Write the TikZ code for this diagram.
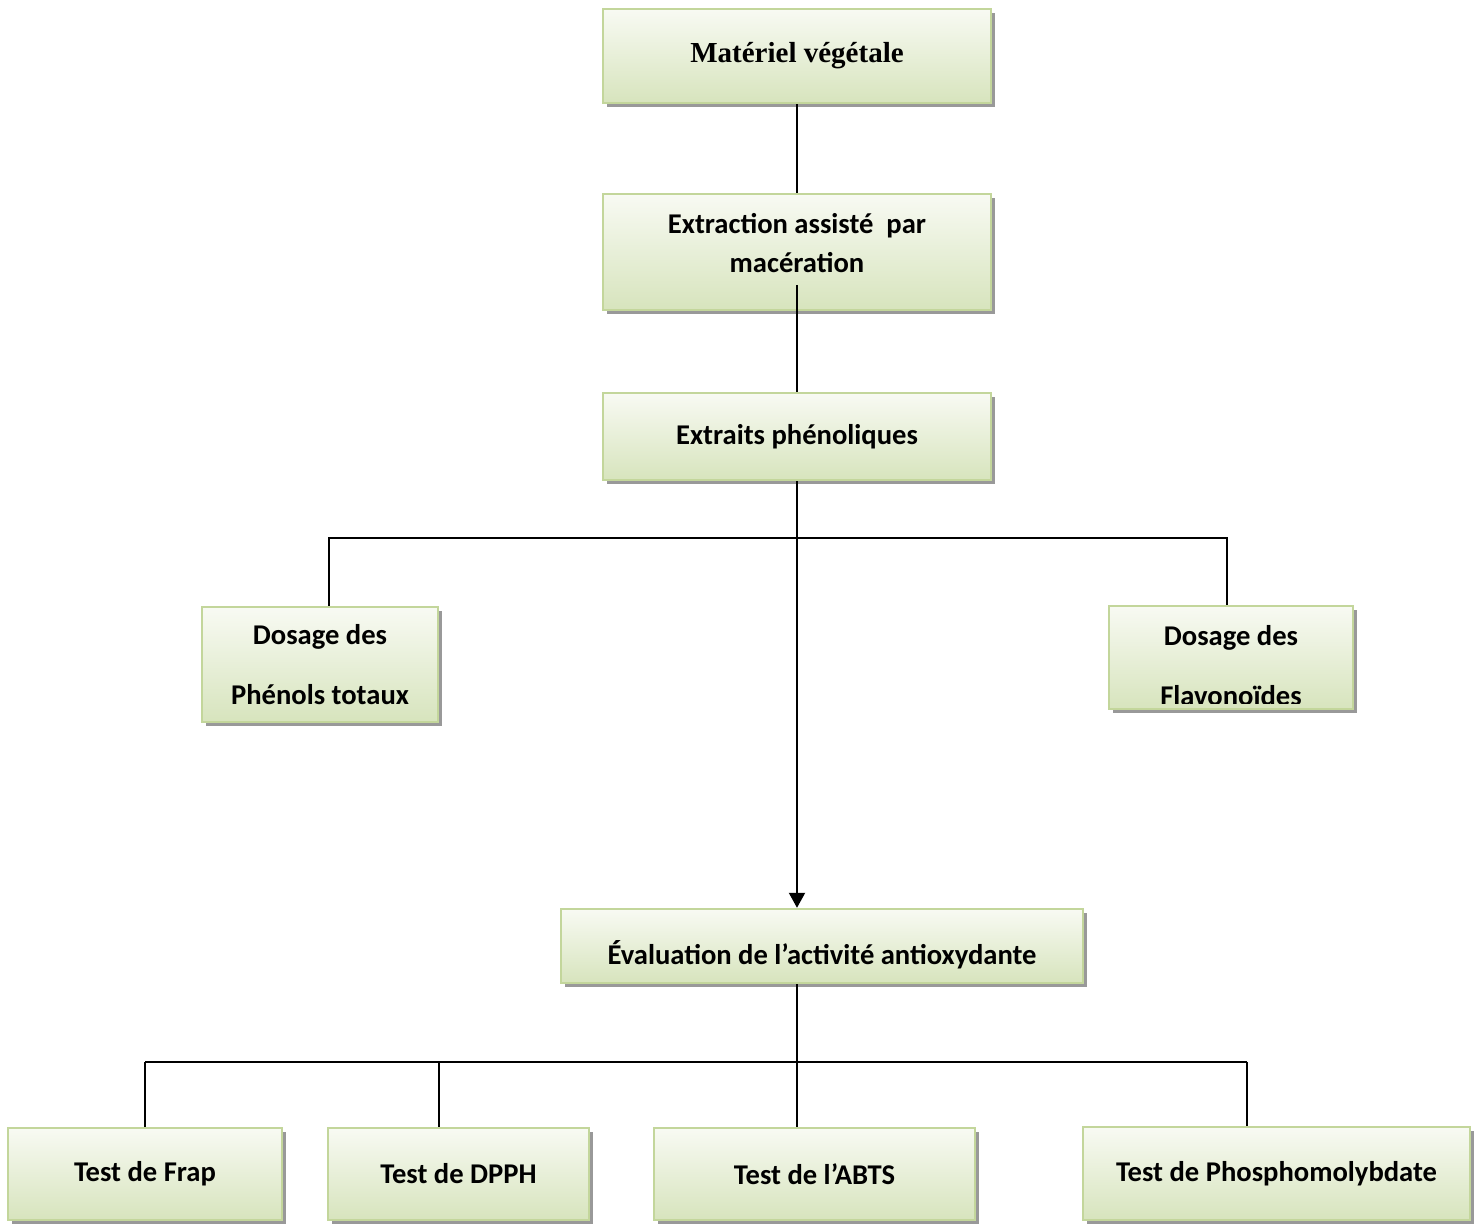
\documentclass[tikz,border=0pt]{standalone}
\usepackage{fontspec}
\setmainfont{Carlito}
\newfontfamily\timesfont{Liberation Serif}
\usetikzlibrary{arrows.meta,shadows}
\definecolor{boxtop}{HTML}{F8FAF3}
\definecolor{boxbot}{HTML}{D7E4BD}
\definecolor{boxline}{HTML}{C3D69B}

\begin{document}
\begin{tikzpicture}[x=0.5pt, y=-0.5pt,
	box/.style={rectangle, draw=boxline, line width=1.2pt, top color=boxtop, bottom color=boxbot,
		align=center, inner sep=0pt, font=\fontsize{14.3}{19.5}\selectfont\bfseries,
		drop shadow={shadow xshift=2pt, shadow yshift=-2pt, fill=black!40, opacity=1}},
	link/.style={line width=1pt}]
				\useasboundingbox (0,0) rectangle (1480,1224);
				\path (797,56) node[box, minimum width=194pt, minimum height=47pt, font=\timesfont\fontsize{14.5}{17}\selectfont\bfseries] (mat){Matériel végétale}
				(797,252) node[box, minimum width=194pt, minimum height=58pt, text height=25pt, text depth=4pt] (ext){Extraction assisté~~par\\macération}
				(797,436.5) node[box, minimum width=194pt, minimum height=43.5pt] (phe){Extraits phénoliques}
				(320,664.5) node[box, minimum width=118pt, minimum height=57.5pt] (dpt){Dosage des\\[10.5pt]Phénols totaux}
				(1231,657.5) node[box, minimum width=122pt, minimum height=51.5pt] (dfl){}
				(822,946) node[box, minimum width=261pt, minimum height=37pt, text height=22.5pt, text depth=3.5pt] (eva){Évaluation de l’activité antioxydante}
				(145,1174) node[box, minimum width=137pt, minimum height=46pt] (t1){Test de Frap}
				(458.5,1174) node[box, minimum width=130.5pt, minimum height=46pt] (t2){Test de DPPH}
				(814.5,1174) node[box, minimum width=160.5pt, minimum height=46pt] (t3){Test de l’ABTS}
				(1276.5,1173.5) node[box, minimum width=193.5pt, minimum height=46.5pt] (t4){Test de Phosphomolybdate};
				
				\begin{scope}
					\clip (dfl.north west) rectangle ([yshift=3.5pt]dfl.south east);
					\node[align=center, font=\fontsize{14.3}{19.5}\selectfont\bfseries] (dfltxt) at (1231,666) {Dosage des\\[10.5pt]Flavonoïdes};
				\end{scope}
				
				\coordinate (e2) at (797,285);
				\coordinate (jl) at (329,538);
				\coordinate (jr) at (1227,538);
				\coordinate (b1) at (145,1062);
				\coordinate (b2) at (439,1062);
				\coordinate (b3) at (797,1062);
				\coordinate (b4) at (1247,1062);
				
				\draw[link] (mat) -- (ext);
				\draw[link] (e2) -- (phe);
				\draw[link, -{Triangle[length=7.5pt,width=8pt]}] (phe.south) -- (phe.south |- eva.north);
				\draw[link] (dpt.north -| jl) -- (jl) -- (jr) -- (jr |- dfl.north);
				\draw[link] (b3 |- eva.south) -- (b3 |- t3.north)
				(b1) -- (b4);
				\foreach \c/\n in {b1/t1, b2/t2, b4/t4}
					\draw[link] (\c) -- (\c |- \n.north);
			\end{tikzpicture}
\end{document}
